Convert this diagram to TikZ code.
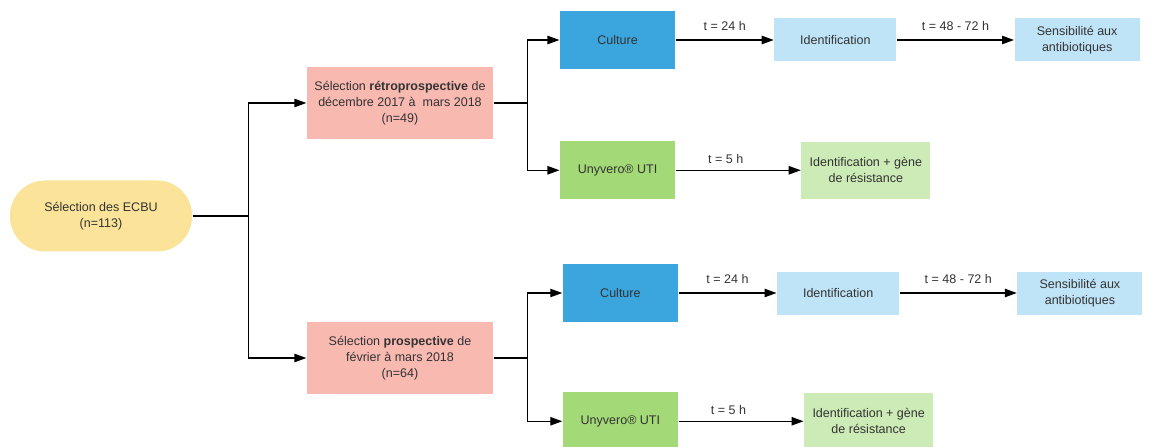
\documentclass[tikz,border=0pt]{standalone}
\usepackage{fontspec}
\setmainfont{Liberation Sans}
\usetikzlibrary{positioning,arrows.meta}
\definecolor{pillyellow}{HTML}{FBE39A}
\definecolor{selpink}{HTML}{F8B9B0}
\definecolor{cultblue}{HTML}{3AA6DD}
\definecolor{lightblue}{HTML}{C0E4F7}
\definecolor{pcrgreen}{HTML}{A3D977}
\definecolor{lightgreen}{HTML}{CDEBB6}
\begin{document}
\begin{tikzpicture}[>={Triangle[length=3mm,width=2.1mm]},line width=0.9pt,
    every node/.style={font=\fontsize{8.9}{11.4}\selectfont, text=black!80, align=center, inner sep=2pt},
    start/.style={fill=pillyellow, rounded corners=0.87cm, minimum width=4.55cm, minimum height=1.775cm},
    select/.style={fill=selpink, minimum width=4.65cm, minimum height=1.8cm},
    culture/.style={fill=cultblue, minimum width=2.875cm, minimum height=1.45cm},
    pcr/.style={fill=pcrgreen, minimum width=2.875cm, minimum height=1.45cm},
    ident/.style={fill=lightblue, minimum width=3.05cm, minimum height=1.075cm},
    sens/.style={fill=lightblue, minimum width=3.125cm, minimum height=1.075cm},
    gene/.style={fill=lightgreen, minimum width=3.225cm, minimum height=1.425cm}]
    \useasboundingbox (0,0) rectangle (28.95,-11.175);

    \node[start] (ecbu) at (2.525,-5.4) {Sélection des ECBU\\(n=113)};
    \node[select] (retro) at (10,-2.575) {Sélection \textbf{rétroprospective} de\\décembre 2017 à~ mars 2018\\(n=49)};
    \node[select] (prosp) at (10,-8.95) {Sélection \textbf{prospective} de\\février à mars 2018\\(n=64)};

    % retroprospective
    \node[culture] (cult1) at (15.44,-1.0) {Culture};
    \node[ident] (ident1) [right=2.45cm of cult1] {Identification};
    \node[sens] (sens1) [right=2.925cm of ident1] {Sensibilité aux\\antibiotiques};
    \node[pcr] (uny1) [below=1.775cm of cult1] {Unyvero® UTI};
    \node[gene] (gene1) [right=3.125cm of uny1] {Identification + gène\\de résistance};

    % prospective
    \node[culture] (cult2) at (15.51,-7.325) {Culture};
    \node[ident] (ident2) [right=2.45cm of cult2] {Identification};
    \node[sens] (sens2) [right=2.925cm of ident2] {Sensibilité aux\\antibiotiques};
    \node[pcr] (uny2) [below=1.725cm of cult2] {Unyvero® UTI};
    \node[gene] (gene2) [right=3.125cm of uny2] {Identification + gène\\de résistance};

    \draw [->] (ecbu.east) -- ++(1.4,0) |- (retro.west);
    \draw [->] (ecbu.east) -- ++(1.4,0) |- (prosp.west);
    \draw [->] (retro.east) -- ++(0.85,0) |- (cult1.west);
    \draw [->] (retro.east) -- ++(0.85,0) |- (uny1.west);
    \draw [->] (prosp.east) -- ++(0.85,0) |- (cult2.west);
    \draw [->] (prosp.east) -- ++(0.85,0) |- (uny2.west);

    \draw [->] (cult1) -- node[above=4pt] {t = 24 h} (ident1);
    \draw [->] (ident1) -- node[above=4pt] {t = 48 - 72 h} (sens1);
    \draw [->] (uny1) -- node[above=2.5pt, pos=0.4] {t = 5 h} (gene1);
    \draw [->] (cult2) -- node[above=4pt] {t = 24 h} (ident2);
    \draw [->] (ident2) -- node[above=4pt] {t = 48 - 72 h} (sens2);
    \draw [->] (uny2) -- node[above=2.5pt, pos=0.4] {t = 5 h} (gene2);
  \end{tikzpicture}
\end{document}
